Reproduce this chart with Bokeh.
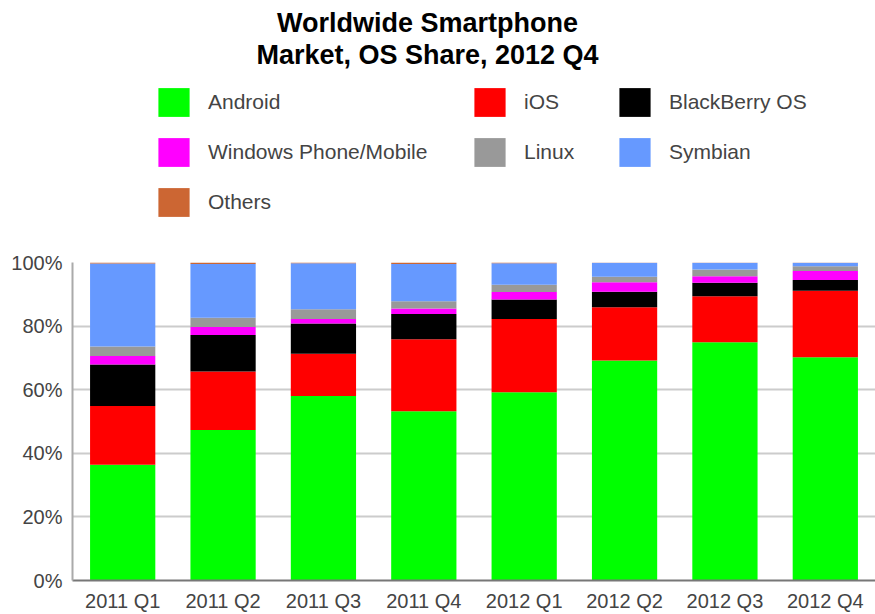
from bokeh.plotting import figure
from bokeh.layouts import column
from bokeh.models import (Legend, LegendItem, Label, FactorRange, Range1d,
                          PrintfTickFormatter, FixedTicker, ColumnDataSource)
from bokeh.embed import file_html
from bokeh.resources import INLINE

quarters = ["2011 Q1", "2011 Q2", "2011 Q3", "2011 Q4",
            "2012 Q1", "2012 Q2", "2012 Q3", "2012 Q4"]
os_names = ["Android", "iOS", "BlackBerry OS", "Windows Phone/Mobile",
            "Linux", "Symbian", "Others"]
android = [36.4, 47.3, 58.0, 53.2, 59.2, 69.2, 74.9, 70.2]
ios = [18.5, 18.4, 13.3, 22.7, 23.0, 16.7, 14.5, 20.9]
blackberry = [13.0, 11.5, 9.5, 7.9, 6.2, 4.9, 4.2, 3.4]
windows = [2.7, 2.5, 1.4, 1.7, 2.3, 3.0, 2.1, 2.8]
linux = [3.0, 2.9, 3.1, 2.3, 2.3, 1.7, 2.1, 1.5]
symbian = [26.1, 16.9, 14.5, 11.7, 6.8, 4.4, 2.1, 1.1]
others = [0.3, 0.5, 0.2, 0.5, 0.2, 0.1, 0.1, 0.1]
colors = ["#00ff00", "#ff0000", "#000000", "#ff00ff",
          "#999999", "#6699ff", "#cc6633"]
y_ticks = [0, 20, 40, 60, 80, 100]
title_lines = ["Worldwide Smartphone", "Market, OS Share, 2012 Q4"]

source = ColumnDataSource(data={
    "quarter": quarters,
    "Android": android,
    "iOS": ios,
    "BlackBerry OS": blackberry,
    "Windows Phone/Mobile": windows,
    "Linux": linux,
    "Symbian": symbian,
    "Others": others,
})

FONT = "Liberation Sans"
LEFT = 72  # frame left offset shared by both figures (layout aligns frames)

# ---------------- header (title + legend) ----------------
HEAD_H = 240
head = figure(width=875, height=HEAD_H,
              x_range=Range1d(LEFT, 875), y_range=Range1d(HEAD_H, 0),
              output_backend="svg", toolbar_location=None,
              min_border_left=LEFT, min_border_right=0,
              min_border_top=0, min_border_bottom=0)
head.axis.visible = False
head.grid.visible = False
head.outline_line_color = None

for txt, yy in zip(title_lines, [22, 54]):
    head.add_layout(Label(x=427, y=yy, text=txt, text_align="center",
                          text_baseline="alphabetic",
                          text_font=FONT, text_font_size="27px",
                          text_font_style="bold", text_color="#000000"))

# legend proxies (zero-height bars outside the visible range)
swatches = [head.vbar(x=[-100], top=[0], bottom=[0], width=1,
                      fill_color=c, line_color=None) for c in colors]

GW, GH, SP = 39, 36, 14
columns = [([0, 3, 6], (154 - LEFT, HEAD_H - (84.4 + 3 * GH + 2 * SP))),
           ([1, 4], (470 - LEFT, HEAD_H - (84.4 + 2 * GH + SP))),
           ([2, 5], (615 - LEFT, HEAD_H - (84.4 + 2 * GH + SP)))]
for idxs, loc in columns:
    items = [LegendItem(label=os_names[i], renderers=[swatches[i]]) for i in idxs]
    leg = Legend(items=items, location=loc, orientation="vertical",
                 glyph_width=GW, glyph_height=GH, label_standoff=15,
                 spacing=SP, padding=0, margin=0,
                 border_line_color=None, background_fill_alpha=0,
                 label_text_font=FONT, label_text_font_size="21px",
                 label_text_color="#444444")
    head.add_layout(leg, "center")

# ---------------- chart ----------------
p = figure(x_range=FactorRange(factors=quarters, range_padding=0),
           y_range=Range1d(0, 100),
           width=875, height=374,
           output_backend="svg", toolbar_location=None,
           min_border_left=LEFT, min_border_right=0,
           min_border_top=22, min_border_bottom=32)

renderers = p.vbar_stack(os_names, x="quarter", width=0.65, source=source,
                         fill_color=colors, line_color=None)

p.yaxis.ticker = FixedTicker(ticks=y_ticks)
p.yaxis.formatter = PrintfTickFormatter(format="%d%%")
for ax in (p.xaxis, p.yaxis):
    ax.major_tick_line_color = None
    ax.minor_tick_line_color = None
    ax.major_tick_out = 0
    ax.major_tick_in = 0
    ax.major_label_text_font = FONT
    ax.major_label_text_font_size = "20px"
    ax.major_label_text_color = "#444444"
p.yaxis.axis_line_color = "#aaaaaa"
p.yaxis.axis_line_width = 2
p.yaxis.major_label_standoff = 10
p.xaxis.axis_line_color = "#777777"
p.xaxis.axis_line_width = 2
p.xaxis.major_label_standoff = 9

p.xgrid.grid_line_color = None
p.ygrid.grid_line_color = "#cccccc"
p.ygrid.grid_line_width = 2
p.outline_line_color = None

layout = column(head, p, spacing=0)
open("out.html", "w").write(file_html(layout, INLINE))
